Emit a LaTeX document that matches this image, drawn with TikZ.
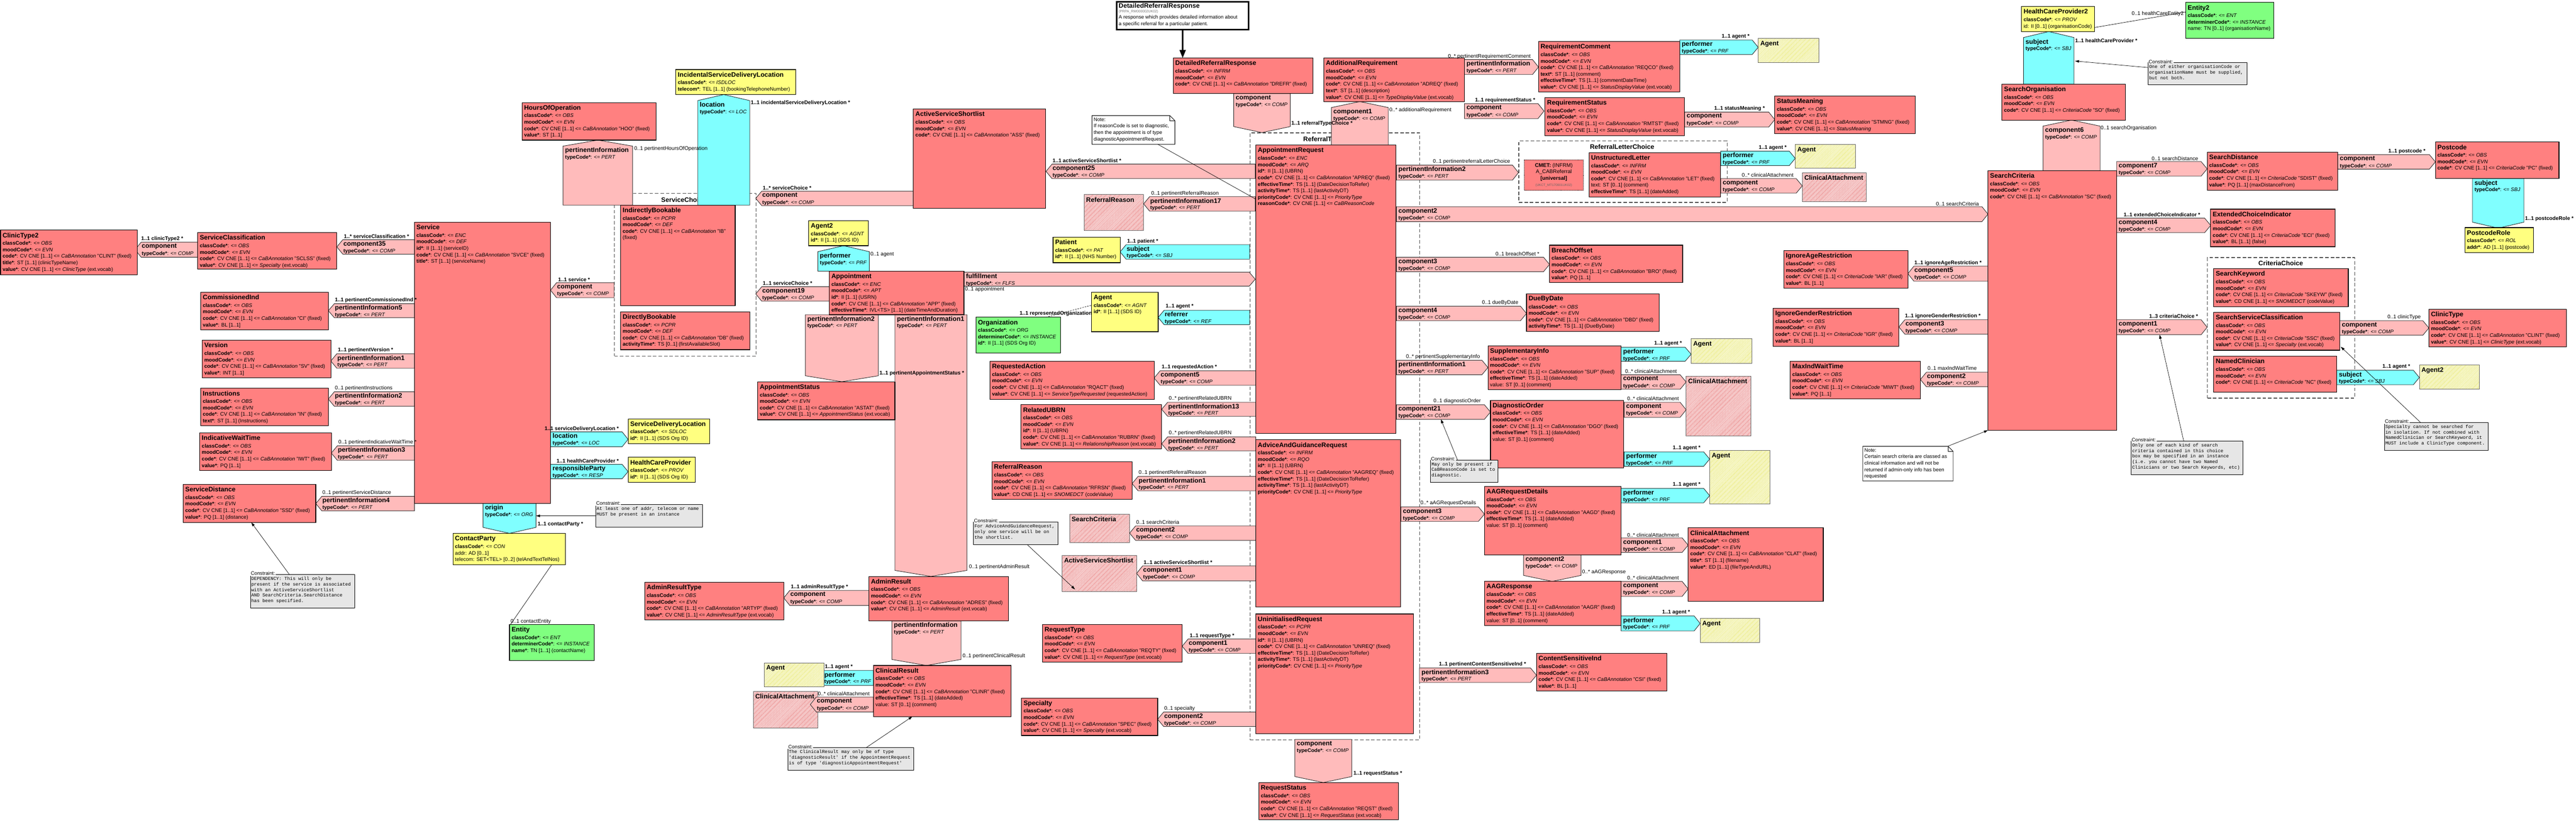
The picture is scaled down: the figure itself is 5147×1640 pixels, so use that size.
\documentclass[tikz,border=0pt]{standalone}
\usepackage{fontspec}
\setmainfont{Liberation Sans}
\setmonofont{Liberation Mono}
\usetikzlibrary{arrows.meta,patterns}

\definecolor{actred}{RGB}{255,128,128}
\definecolor{relpink}{RGB}{255,187,187}
\definecolor{partcyan}{RGB}{128,255,255}
\definecolor{roleyel}{RGB}{255,255,128}
\definecolor{entgrn}{RGB}{128,255,128}
\definecolor{cnstgray}{RGB}{230,230,230}
\definecolor{hatchred}{RGB}{215,25,25}
\definecolor{hatchyel}{RGB}{215,215,0}

\tikzset{%
  % Specifications for style of class boxes:
  actcls/.style = {rectangle, draw=black, line width=1.2pt, fill=actred, anchor=north west, inner sep=0pt, outer sep=0pt},
  rolecls/.style = {actcls, fill=roleyel},
  entcls/.style = {actcls, fill=entgrn},
  phred/.style = {rectangle, draw=black!60, line width=1pt, anchor=north west, inner sep=0pt, outer sep=0pt, preaction={fill=white}, pattern=north east lines, pattern color=hatchred},
  phyel/.style = {phred, pattern color=hatchyel},
  clsttl/.style = {anchor=north west, inner sep=0pt, font=\fontsize{13}{14}\selectfont\bfseries},
  clsattr/.style = {anchor=north west, inner sep=0pt, align=left, font=\fontsize{10.3}{13}\selectfont},
  hdrbox/.style = {rectangle, draw=black, line width=3pt, fill=white, anchor=north west, inner sep=0pt},
  cmetbox/.style = {rectangle, draw=black, densely dotted, line width=1pt, fill=actred, anchor=north west, inner sep=0pt},
  % Specifications for style of associations:
  rel/.style = {draw=black!85, line width=0.9pt, fill=relpink},
  part/.style = {rel, fill=partcyan},
  relttl/.style = {anchor=north west, inner sep=0pt, font=\fontsize{13}{14}\selectfont\bfseries},
  reltc/.style = {anchor=north west, inner sep=0pt, font=\fontsize{10.3}{12}\selectfont},
  rlabel/.style = {anchor=west, inner sep=0pt, font=\fontsize{10.5}{12}\selectfont},
  rlabelb/.style = {rlabel, font=\fontsize{10.5}{12}\selectfont\bfseries},
  % Specifications for choice boxes, notes and constraints:
  choicebox/.style = {rectangle, draw=black!70, dash pattern=on 7pt off 4pt, line width=1.3pt, anchor=north west, inner sep=0pt},
  choicettl/.style = {inner sep=0pt, font=\fontsize{13}{14}\selectfont\bfseries},
  cnstbox/.style = {rectangle, draw=black, line width=1pt, fill=cnstgray, anchor=north west, inner sep=0pt},
  cnstlbl/.style = {anchor=south west, inner sep=1pt, fill=white, font=\fontsize{10}{11}\selectfont},
  cnsttxt/.style = {anchor=north west, inner sep=0pt, align=left, font=\fontsize{9.2}{11}\selectfont\ttfamily},
  notearea/.style = {rectangle, anchor=north west, inner sep=0pt},
  notefold/.style = {draw=black, line width=1pt, fill=white},
  notetxt/.style = {anchor=north west, inner sep=0pt, align=left, font=\fontsize{10}{13}\selectfont},
  cnlink/.style = {line width=0.7pt, -{Triangle[length=8pt,width=5pt]}},
  plainlink/.style = {line width=0.7pt},
  bigarrow/.style = {line width=3pt, -{Triangle[length=16pt,width=12pt]}},
}

% class box: style, name, x1, y1, x2, y2, title, attributes
\newcommand{\rimcls}[8]{%
  \node[#1, minimum width={(#5-#3)*1pt}, minimum height={(#6-#4)*1pt}] (#2) at (#3,#4) {};
  \node[clsttl] (#2-t) at ([xshift=4pt,yshift=-5pt]#2.north west) {#7};
  \node[clsattr] (#2-a) at ([xshift=4pt,yshift=-22pt]#2.north west) {#8};
}
% placeholder box: style, name, x1, y1, x2, y2, title
\newcommand{\rimph}[7]{%
  \node[#1, minimum width={(#5-#3)*1pt}, minimum height={(#6-#4)*1pt}] (#2) at (#3,#4) {};
  \node[clsttl] (#2-t) at ([xshift=4pt,yshift=-5pt]#2.north west) {#7};
}
% associations: style, name, x1, y1, x2, y2, title, typeCode
\newcommand{\relW}[8]{%
  \path[#1] (#3,{(#4+#6)/2}) -- ({#3+12},#4) -- (#5,#4) -- (#5,#6) -- ({#3+12},#6) -- cycle;
  \node[relttl] (#2) at ({#3+13},{#4+3}) {#7};
  \node[reltc] (#2-tc) at ({#3+13},{#4+18}) {\textbf{typeCode*}: <= \textit{#8}};
}
\newcommand{\relE}[8]{%
  \path[#1] (#3,#4) -- ({#5-12},#4) -- (#5,{(#4+#6)/2}) -- ({#5-12},#6) -- (#3,#6) -- cycle;
  \node[relttl] (#2) at ({#3+4},{#4+3}) {#7};
  \node[reltc] (#2-tc) at ({#3+4},{#4+18}) {\textbf{typeCode*}: <= \textit{#8}};
}
\newcommand{\relN}[8]{%
  \path[#1] ({(#3+#5)/2},#4) -- (#5,{#4+12}) -- (#5,#6) -- (#3,#6) -- (#3,{#4+12}) -- cycle;
  \node[relttl] (#2) at ({#3+4},{#4+15}) {#7};
  \node[reltc] (#2-tc) at ({#3+4},{#4+30}) {\textbf{typeCode*}: <= \textit{#8}};
}
\newcommand{\relS}[8]{%
  \path[#1] (#3,#4) -- (#5,#4) -- (#5,{#6-12}) -- ({(#3+#5)/2},#6) -- (#3,{#6-12}) -- cycle;
  \node[relttl] (#2) at ({#3+4},{#4+3}) {#7};
  \node[reltc] (#2-tc) at ({#3+4},{#4+18}) {\textbf{typeCode*}: <= \textit{#8}};
}
\newcommand{\rlab}[4]{\node[rlabel] (#1) at (#2,#3) {#4};}
\newcommand{\rlabb}[4]{\node[rlabelb] (#1) at (#2,#3) {#4};}
% constraint: name, x1, y1, x2, y2, text
\newcommand{\rimcnst}[6]{%
  \node[cnstbox, minimum width={(#4-#2)*1pt}, minimum height={(#5-#3)*1pt}] (#1) at (#2,#3) {};
  \node[cnstlbl] (#1-l) at ([yshift=-3pt]#1.north west) {Constraint:};
  \node[cnsttxt] (#1-t) at ([xshift=2pt,yshift=-5pt]#1.north west) {#6};
}
% note: name, x1, y1, x2, y2, text
\newcommand{\rimnote}[6]{%
  \node[notearea, minimum width={(#4-#2)*1pt}, minimum height={(#5-#3)*1pt}] (#1) at (#2,#3) {};
  \draw[notefold] (#1.north west) -- ([xshift=-10pt]#1.north east) -- ([yshift=-10pt]#1.north east) -- (#1.south east) -- (#1.south west) -- cycle;
  \draw[notefold, fill=none] ([xshift=-10pt]#1.north east) -- ([xshift=-10pt,yshift=-10pt]#1.north east) -- ([yshift=-10pt]#1.north east);
  \node[notetxt] (#1-t) at ([xshift=3pt,yshift=-4pt]#1.north west) {#6};
}
% attribute helpers
\newcommand{\attcls}[1]{\textbf{classCode*}: <= \textit{#1}}
\newcommand{\attmood}[1]{\textbf{moodCode*}: <= \textit{#1}}
\newcommand{\attdet}[1]{\textbf{determinerCode*}: <= \textit{#1}}
\newcommand{\attcode}[2]{\textbf{code*}: CV CNE [1..1] <= \textit{#1} "#2" (fixed)}
\newcommand{\attid}[1]{\textbf{id*}: II [1..1] (#1)}
\newcommand{\attvoc}[1]{\textbf{value*}: CV CNE [1..1] <= \textit{#1} (ext.vocab)}
\newcommand{\attadded}{\textbf{effectiveTime*}: TS [1..1] (dateAdded)\\value: ST [0..1] (comment)}
\newcommand{\attreq}{\textbf{effectiveTime*}: TS [1..1] (DateDecisionToRefer)\\\textbf{activityTime*}: TS [1..1] (lastActivityDT)\\\textbf{priorityCode*}: CV CNE [1..1] <= \textit{PriorityType}}

\begin{document}
\begin{tikzpicture}[x=1pt, y=-1pt]
    \useasboundingbox (0,0) rectangle (5147,1640);
    \fill[white] (0,0) rectangle (5147,1640);

    % Draw choice boxes
    \node[choicebox, minimum width=283pt, minimum height=325pt] (svcchoice) at (1227,386) {};
    \node[choicettl] (svcchoice-t) at (1366,399) {ServiceChoice};
    \node[choicebox, minimum width=339pt, minimum height=1213pt] (rtchoice) at (2497,265) {};
    \node[choicettl] (rtchoice-t) at (2665,279) {ReferralTypeChoice};
    \node[choicebox, minimum width=416pt, minimum height=123pt] (rlchoice) at (3034,281) {};
    \node[choicettl] (rlchoice-t) at (3241,293) {ReferralLetterChoice};
    \node[choicebox, minimum width=294pt, minimum height=281pt] (critchoice) at (4410,514) {};
    \node[choicettl] (critchoice-t) at (4557,526) {CriteriaChoice};

    % Draw placeholders
    \rimph{phred}{phrr}{2166}{389}{2285}{461}{ReferralReason}
    \rimph{phred}{phsc}{2137}{1028}{2257}{1084}{SearchCriteria}
    \rimph{phred}{phass}{2122}{1110}{2271}{1182}{ActiveServiceShortlist}
    \rimph{phred}{phca1}{1505}{1382}{1634}{1455}{ClinicalAttachment}
    \rimph{phred}{phca2}{3601}{345}{3729}{403}{ClinicalAttachment}
    \rimph{phred}{phca3}{3369}{752}{3498}{871}{ClinicalAttachment}
    \rimph{phyel}{phag2}{3513}{77}{3634}{125}{Agent}
    \rimph{phyel}{phag3}{3587}{289}{3707}{336}{Agent}
    \rimph{phyel}{phag4}{3379}{677}{3500}{726}{Agent}
    \rimph{phyel}{phag5}{3416}{900}{3536}{1007}{Agent}
    \rimph{phyel}{phag6}{3397}{1236}{3516}{1284}{Agent}
    \rimph{phyel}{phagt2}{4834}{729}{4954}{778}{Agent2}

    % Draw associations
    \relW{rel}{ct2comp}{270}{484}{395}{514}{component}{COMP}
    \relW{rel}{comp35}{673}{479}{828}{508}{component35}{COMP}
    \relW{rel}{pi5}{656}{607}{828}{635}{pertinentInformation5}{PERT}
    \relW{rel}{pi1v}{661}{707}{828}{736}{pertinentInformation1}{PERT}
    \relW{rel}{pi2i}{656}{783}{828}{812}{pertinentInformation2}{PERT}
    \relW{rel}{pi3}{662}{891}{828}{920}{pertinentInformation3}{PERT}
    \relW{rel}{pi4}{631}{992}{828}{1021}{pertinentInformation4}{PERT}
    \relW{rel}{svccomp}{1100}{565}{1227}{595}{component}{COMP}
    \relW{rel}{schcomp}{1510}{382}{1825}{411}{component}{COMP}
    \relW{rel}{comp19}{1510}{573}{1657}{602}{component19}{COMP}
    \relW{rel}{comp25}{2090}{328}{2508}{357}{component25}{COMP}
    \relW{rel}{pi17}{2285}{393}{2508}{422}{pertinentInformation17}{PERT}
    \relW{part}{patsubj}{2238}{489}{2497}{518}{subject}{SBJ}
    \relW{part}{referrer}{2314}{620}{2497}{649}{referrer}{REF}
    \relW{rel}{comp5}{2306}{741}{2509}{770}{component5}{COMP}
    \relW{rel}{pi13}{2321}{804}{2509}{832}{pertinentInformation13}{PERT}
    \relW{rel}{pi2u}{2321}{873}{2509}{901}{pertinentInformation2}{PERT}
    \relW{rel}{pi1r}{2262}{952}{2509}{981}{pertinentInformation1}{PERT}
    \relW{rel}{comp2sc}{2257}{1051}{2509}{1080}{component2}{COMP}
    \relW{rel}{comp1as}{2271}{1131}{2509}{1161}{component1}{COMP}
    \relW{rel}{artcomp}{1566}{1180}{1736}{1210}{component}{COMP}
    \relW{part}{crperf}{1634}{1340}{1745}{1370}{performer}{PRF}
    \relW{rel}{crcomp}{1619}{1393}{1745}{1423}{component}{COMP}
    \relW{rel}{comp1rt}{2362}{1277}{2509}{1306}{component1}{COMP}
    \relW{rel}{comp2sp}{2313}{1423}{2509}{1452}{component2}{COMP}
    \relW{rel}{comp5ia}{3812}{532}{3972}{562}{component5}{COMP}
    \relW{rel}{comp3ig}{3794}{639}{3972}{668}{component3}{COMP}
    \relW{rel}{comp2mw}{3837}{744}{3972}{773}{component2}{COMP}

    \relE{part}{sdlloc}{1100}{863}{1255}{893}{location}{LOC}
    \relE{part}{resp}{1100}{928}{1255}{957}{responsibleParty}{RESP}
    \relE{rel}{fulfil}{1926}{544}{2508}{572}{fulfillment}{FLFS}
    \relE{rel}{pirc}{2926}{119}{3074}{149}{pertinentInformation}{PERT}
    \relE{rel}{rscomp}{2926}{207}{3085}{237}{component}{COMP}
    \relE{rel}{smcomp}{3366}{224}{3546}{254}{component}{COMP}
    \relE{part}{rcperf}{3356}{80}{3513}{109}{performer}{PRF}
    \relE{rel}{pi2l}{2790}{330}{3034}{360}{pertinentInformation2}{PERT}
    \relE{part}{ulperf}{3438}{302}{3587}{331}{performer}{PRF}
    \relE{rel}{ulcomp}{3438}{357}{3601}{386}{component}{COMP}
    \relE{rel}{comp2cr}{2790}{413}{3972}{443}{component2}{COMP}
    \relE{rel}{comp3bo}{2790}{514}{3096}{543}{component3}{COMP}
    \relE{rel}{comp4dd}{2790}{612}{3050}{641}{component4}{COMP}
    \relE{rel}{pi1s}{2790}{720}{2973}{749}{pertinentInformation1}{PERT}
    \relE{part}{siperf}{3239}{694}{3379}{722}{performer}{PRF}
    \relE{rel}{sicomp}{3239}{749}{3369}{778}{component}{COMP}
    \relE{rel}{comp21}{2790}{809}{2978}{838}{component21}{COMP}
    \relE{rel}{docomp}{3245}{804}{3369}{834}{component}{COMP}
    \relE{part}{doperf}{3245}{903}{3416}{932}{performer}{PRF}
    \relE{part}{adperf}{3239}{976}{3416}{1005}{performer}{PRF}
    \relE{rel}{comp3ad}{2799}{1013}{2966}{1042}{component3}{COMP}
    \relE{rel}{adcomp}{3239}{1075}{3373}{1104}{component1}{COMP}
    \relE{rel}{arcomp}{3239}{1162}{3373}{1192}{component}{COMP}
    \relE{part}{arperf}{3239}{1231}{3397}{1261}{performer}{PRF}
    \relE{rel}{pi3cs}{2836}{1335}{3070}{1364}{pertinentInformation3}{PERT}
    \relE{rel}{comp7}{4229}{323}{4410}{352}{component7}{COMP}
    \relE{rel}{pccomp}{4671}{309}{4866}{338}{component}{COMP}
    \relE{rel}{comp4ec}{4229}{436}{4417}{465}{component4}{COMP}
    \relE{rel}{comp1cc}{4229}{639}{4410}{669}{component1}{COMP}
    \relE{rel}{ctcomp}{4675}{641}{4853}{670}{component}{COMP}
    \relE{part}{ncsubj}{4669}{740}{4834}{769}{subject}{SBJ}

    \relN{rel}{pihoo}{1125}{280}{1264}{410}{pertinentInformation}{PERT}
    \relN{part}{isdlloc}{1394}{189}{1498}{410}{location}{LOC}
    \relN{part}{ag2perf}{1634}{491}{1737}{542}{performer}{PRF}
    \relN{rel}{comp1ar}{2660}{203}{2774}{290}{component1}{COMP}
    \relN{part}{hcpsubj}{4043}{63}{4144}{168}{subject}{SBJ}
    \relN{rel}{comp6}{4082}{240}{4196}{341}{component6}{COMP}

    \relS{part}{origin}{965}{1006}{1071}{1066}{origin}{ORG}
    \relS{rel}{drrcomp}{2465}{187}{2578}{265}{component}{COMP}
    \relS{rel}{pi2as}{1609}{629}{1755}{763}{pertinentInformation2}{PERT}
    \relS{rel}{pi1ad}{1788}{629}{1932}{1152}{pertinentInformation1}{PERT}
    \relS{rel}{picr}{1782}{1241}{1920}{1330}{pertinentInformation}{PERT}
    \relS{rel}{comp2ar}{3044}{1109}{3159}{1162}{component2}{COMP}
    \relS{rel}{rqcomp}{2587}{1478}{2701}{1564}{component}{COMP}
    \relS{part}{pcsubj}{4940}{357}{5043}{456}{subject}{SBJ}

    \rimph{phyel}{phag1}{1527}{1325}{1646}{1373}{Agent}

    % Draw classes
    \rimcls{actcls}{ct2}{1}{460}{274}{549}{ClinicType2}{\attcls{OBS}\\\attmood{EVN}\\\attcode{CaBAnnotation}{CLINT}\\\textbf{title*}: ST [1..1] (clinicTypeName)\\\attvoc{ClinicType}}
    \rimcls{actcls}{svccls}{395}{465}{673}{538}{ServiceClassification}{\attcls{OBS}\\\attmood{EVN}\\\attcode{CaBAnnotation}{SCLSS}\\\attvoc{Specialty}}
    \rimcls{actcls}{service}{828}{444}{1100}{1006}{Service}{\attcls{ENC}\\\attmood{DEF}\\\attid{serviceID}\\\attcode{CaBAnnotation}{SVCE}\\\textbf{title*}: ST [1..1] (serviceName)}
    \rimcls{actcls}{hoo}{1043}{205}{1311}{280}{HoursOfOperation}{\attcls{OBS}\\\attmood{EVN}\\\attcode{CaBAnnotation}{HOO}\\\textbf{value*}: ST [1..1]}
    \rimcls{actcls}{comind}{401}{584}{656}{659}{CommissionedInd}{\attcls{OBS}\\\attmood{EVN}\\\attcode{CaBAnnotation}{CI}\\\textbf{value*}: BL [1..1]}
    \rimcls{actcls}{version}{404}{680}{661}{755}{Version}{\attcls{OBS}\\\attmood{EVN}\\\attcode{CaBAnnotation}{SV}\\\textbf{value*}: INT [1..1]}
    \rimcls{actcls}{instr}{401}{776}{656}{851}{Instructions}{\attcls{OBS}\\\attmood{EVN}\\\attcode{CaBAnnotation}{IN}\\\textbf{text*}: ST [1..1] (Instructions)}
    \rimcls{actcls}{iwt}{399}{865}{662}{940}{IndicativeWaitTime}{\attcls{OBS}\\\attmood{EVN}\\\attcode{CaBAnnotation}{IWT}\\\textbf{value*}: PQ [1..1]}
    \rimcls{actcls}{sdist}{366}{968}{631}{1044}{ServiceDistance}{\attcls{OBS}\\\attmood{EVN}\\\attcode{CaBAnnotation}{SSD}\\\textbf{value*}: PQ [1..1] (distance)}
    \rimcls{actcls}{indbook}{1240}{410}{1469}{611}{IndirectlyBookable}{\attcls{PCPR}\\\attmood{DEF}\\\textbf{code*}: CV CNE [1..1] <= \textit{CaBAnnotation} "IB"\\(fixed)}
    \rimcls{actcls}{dirbook}{1240}{623}{1498}{699}{DirectlyBookable}{\attcls{PCPR}\\\attmood{DEF}\\\attcode{CaBAnnotation}{DB}\\\textbf{activityTime*}: TS [0..1] (firstAvailableSlot)}
    \rimcls{actcls}{ass}{1825}{218}{2089}{416}{ActiveServiceShortlist}{\attcls{OBS}\\\attmood{EVN}\\\attcode{CaBAnnotation}{ASS}}
    \rimcls{actcls}{appt}{1657}{542}{1926}{629}{Appointment}{\attcls{ENC}\\\attmood{APT}\\\attid{USRN}\\\attcode{CaBAnnotation}{APP}\\\textbf{effectiveTime*}: IVL<TS> [1..1] (dateTimeAndDuration)}
    \rimcls{actcls}{apptst}{1514}{763}{1788}{839}{AppointmentStatus}{\attcls{OBS}\\\attmood{EVN}\\\attcode{CaBAnnotation}{ASTAT}\\\attvoc{AppointmentStatus}}
    \rimcls{actcls}{rqact}{1978}{722}{2306}{798}{RequestedAction}{\attcls{OBS}\\\attmood{EVN}\\\attcode{CaBAnnotation}{RQACT}\\\textbf{value*}: CV CNE [1..1] <= \textit{ServiceTypeRequested} (requestedAction)}
    \rimcls{actcls}{rubrn}{2040}{809}{2321}{897}{RelatedUBRN}{\attcls{OBS}\\\attmood{EVN}\\\attid{UBRN}\\\attcode{CaBAnnotation}{RUBRN}\\\attvoc{RelationshipReason}}
    \rimcls{actcls}{refrsn}{1982}{923}{2262}{998}{ReferralReason}{\attcls{OBS}\\\attmood{EVN}\\\attcode{CaBAnnotation}{RFRSN}\\\textbf{value*}: CD CNE [1..1] <= \textit{SNOMEDCT} (codeValue)}
    \rimcls{actcls}{admres}{1736}{1152}{2015}{1241}{AdminResult}{\attcls{OBS}\\\attmood{EVN}\\\attcode{CaBAnnotation}{ADRES}\\\attvoc{AdminResult}}
    \rimcls{actcls}{admrt}{1288}{1164}{1566}{1239}{AdminResultType}{\attcls{OBS}\\\attmood{EVN}\\\attcode{CaBAnnotation}{ARTYP}\\\attvoc{AdminResultType}}
    \rimcls{actcls}{clinres}{1745}{1330}{2020}{1432}{ClinicalResult}{\attcls{OBS}\\\attmood{EVN}\\\attcode{CaBAnnotation}{CLINR}\\\attadded}
    \rimcls{actcls}{rqtype}{2083}{1248}{2362}{1323}{RequestType}{\attcls{OBS}\\\attmood{EVN}\\\attcode{CaBAnnotation}{REQTY}\\\attvoc{RequestType}}
    \rimcls{actcls}{spec}{2041}{1395}{2313}{1470}{Specialty}{\attcls{OBS}\\\attmood{EVN}\\\attcode{CaBAnnotation}{SPEC}\\\attvoc{Specialty}}
    \rimcls{actcls}{drr}{2344}{116}{2623}{187}{DetailedReferralResponse}{\attcls{INFRM}\\\attmood{EVN}\\\attcode{CaBAnnotation}{DREFR}}
    \rimcls{actcls}{aptreq}{2509}{290}{2789}{866}{AppointmentRequest}{\attcls{ENC}\\\attmood{ARQ}\\\attid{UBRN}\\\attcode{CaBAnnotation}{APREQ}\\\attreq\\\textbf{reasonCode*}: CV CNE [1..1] <= \textit{CaBReasonCode}}
    \rimcls{actcls}{aagreq}{2509}{879}{2798}{1213}{AdviceAndGuidanceRequest}{\attcls{INFRM}\\\attmood{RQO}\\\attid{UBRN}\\\attcode{CaBAnnotation}{AAGREQ}\\\attreq}
    \rimcls{actcls}{unreq}{2509}{1227}{2824}{1466}{UninitialisedRequest}{\attcls{PCPR}\\\attmood{EVN}\\\attid{UBRN}\\\attcode{CaBAnnotation}{UNREQ}\\\attreq}
    \rimcls{actcls}{rqst}{2515}{1564}{2794}{1638}{RequestStatus}{\attcls{OBS}\\\attmood{EVN}\\\attcode{CaBAnnotation}{REQST}\\\attvoc{RequestStatus}}
    \rimcls{actcls}{addreq}{2645}{116}{2926}{203}{AdditionalRequirement}{\attcls{OBS}\\\attmood{EVN}\\\attcode{CaBAnnotation}{ADREQ}\\\textbf{text*}: ST [1..1] (description)\\\attvoc{TypeDisplayValue}}
    \rimcls{actcls}{rqcom}{3074}{83}{3356}{184}{RequirementComment}{\attcls{OBS}\\\attmood{EVN}\\\attcode{CaBAnnotation}{REQCO}\\\textbf{text*}: ST [1..1] (comment)\\\textbf{effectiveTime*}: TS [1..1] (commentDateTime)\\\attvoc{StatusDisplayValue}}
    \rimcls{actcls}{rqstat}{3087}{195}{3366}{271}{RequirementStatus}{\attcls{OBS}\\\attmood{EVN}\\\attcode{CaBAnnotation}{RMTST}\\\attvoc{StatusDisplayValue}}
    \rimcls{actcls}{stmng}{3546}{192}{3827}{267}{StatusMeaning}{\attcls{OBS}\\\attmood{EVN}\\\attcode{CaBAnnotation}{STMNG}\\\textbf{value*}: CV CNE [1..1] <= \textit{StatusMeaning}}
    \rimcls{actcls}{unletter}{3175}{305}{3438}{394}{UnstructuredLetter}{\attcls{INFRM}\\\attmood{EVN}\\\attcode{CaBAnnotation}{LET}\\text: ST [0..1] (comment)\\\textbf{effectiveTime*}: TS [1..1] (dateAdded)}
    \rimcls{actcls}{breach}{3096}{490}{3362}{565}{BreachOffset}{\attcls{OBS}\\\attmood{EVN}\\\attcode{CaBAnnotation}{BRO}\\\textbf{value*}: PQ [1..1]}
    \rimcls{actcls}{duedate}{3050}{587}{3315}{662}{DueByDate}{\attcls{OBS}\\\attmood{EVN}\\\attcode{CaBAnnotation}{DBD}\\\textbf{activityTime*}: TS [1..1] (DueByDate)}
    \rimcls{actcls}{suppinfo}{2973}{691}{3239}{779}{SupplementaryInfo}{\attcls{OBS}\\\attmood{EVN}\\\attcode{CaBAnnotation}{SUP}\\\attadded}
    \rimcls{actcls}{diagord}{2978}{800}{3244}{935}{DiagnosticOrder}{\attcls{OBS}\\\attmood{EVN}\\\attcode{CaBAnnotation}{DGO}\\\attadded}
    \rimcls{actcls}{aagdet}{2966}{972}{3239}{1109}{AAGRequestDetails}{\attcls{OBS}\\\attmood{EVN}\\\attcode{CaBAnnotation}{AAGD}\\\attadded}
    \rimcls{actcls}{aagresp}{2966}{1162}{3239}{1250}{AAGResponse}{\attcls{OBS}\\\attmood{EVN}\\\attcode{CaBAnnotation}{AAGR}\\\attadded}
    \rimcls{actcls}{clinatt}{3373}{1055}{3643}{1202}{ClinicalAttachment}{\attcls{OBS}\\\attmood{EVN}\\\attcode{CaBAnnotation}{CLAT}\\\textbf{title*}: ST [1..1] (filename)\\\textbf{value*}: ED [1..1] (fileTypeAndURL)}
    \rimcls{actcls}{csind}{3070}{1306}{3331}{1381}{ContentSensitiveInd}{\attcls{OBS}\\\attmood{EVN}\\\attcode{CaBAnnotation}{CSI}\\\textbf{value*}: BL [1..1]}
    \rimcls{actcls}{ignage}{3564}{501}{3812}{576}{IgnoreAgeRestriction}{\attcls{OBS}\\\attmood{EVN}\\\attcode{CriteriaCode}{IAR}\\\textbf{value*}: BL [1..1]}
    \rimcls{actcls}{igngen}{3543}{616}{3794}{692}{IgnoreGenderRestriction}{\attcls{OBS}\\\attmood{EVN}\\\attcode{CriteriaCode}{IGR}\\\textbf{value*}: BL [1..1]}
    \rimcls{actcls}{maxwait}{3577}{722}{3837}{797}{MaxIndWaitTime}{\attcls{OBS}\\\attmood{EVN}\\\attcode{CriteriaCode}{MIWT}\\\textbf{value*}: PQ [1..1]}
    \rimcls{actcls}{scrit}{3972}{341}{4229}{860}{SearchCriteria}{\attcls{OBS}\\\attmood{EVN}\\\attcode{CaBAnnotation}{SC}}
    \rimcls{actcls}{sorg}{4000}{168}{4247}{240}{SearchOrganisation}{\attcls{OBS}\\\attmood{EVN}\\\attcode{CriteriaCode}{SO}}
    \rimcls{actcls}{sdistc}{4410}{304}{4671}{380}{SearchDistance}{\attcls{OBS}\\\attmood{EVN}\\\attcode{CriteriaCode}{SDIST}\\\textbf{value*}: PQ [1..1] (maxDistanceFrom)}
    \rimcls{actcls}{postcode}{4866}{284}{5113}{357}{Postcode}{\attcls{OBS}\\\attmood{EVN}\\\attcode{CriteriaCode}{PC}}
    \rimcls{actcls}{extci}{4417}{418}{4666}{493}{ExtendedChoiceIndicator}{\attcls{OBS}\\\attmood{EVN}\\\attcode{CriteriaCode}{ECI}\\\textbf{value*}: BL [1..1] (false)}
    \rimcls{actcls}{skey}{4423}{537}{4692}{613}{SearchKeyword}{\attcls{OBS}\\\attmood{EVN}\\\attcode{CriteriaCode}{SKEYW}\\\textbf{value*}: CD CNE [1..1] <= \textit{SNOMEDCT} (codeValue)}
    \rimcls{actcls}{ssc}{4423}{624}{4675}{700}{SearchServiceClassification}{\attcls{OBS}\\\attmood{EVN}\\\attcode{CriteriaCode}{SSC}\\\attvoc{Specialty}}
    \rimcls{actcls}{namedcl}{4423}{712}{4669}{784}{NamedClinician}{\attcls{OBS}\\\attmood{EVN}\\\attcode{CriteriaCode}{NC}}
    \rimcls{actcls}{clintype}{4853}{618}{5128}{693}{ClinicType}{\attcls{OBS}\\\attmood{EVN}\\\attcode{CaBAnnotation}{CLINT}\\\attvoc{ClinicType}}

    % Draw roles and entities
    \rimcls{rolecls}{sdloc}{1255}{837}{1418}{887}{ServiceDeliveryLocation}{\attcls{SDLOC}\\\attid{SDS Org ID}}
    \rimcls{rolecls}{hcp}{1255}{914}{1389}{964}{HealthCareProvider}{\attcls{PROV}\\\attid{SDS Org ID}}
    \rimcls{rolecls}{cparty}{905}{1066}{1130}{1129}{ContactParty}{\attcls{CON}\\addr: AD [0..1]\\telecom: SET<TEL> [0..2] (telAndTextTelNos)}
    \rimcls{rolecls}{isdl}{1350}{139}{1590}{189}{IncidentalServiceDeliveryLocation}{\attcls{ISDLOC}\\\textbf{telecom*}: TEL [1..1] (bookingTelephoneNumber)}
    \rimcls{rolecls}{agent2}{1616}{441}{1735}{491}{Agent2}{\attcls{AGNT}\\\attid{SDS ID}}
    \rimcls{rolecls}{patient}{2104}{474}{2238}{525}{Patient}{\attcls{PAT}\\\attid{NHS Number}}
    \rimcls{rolecls}{agent}{2181}{584}{2314}{663}{Agent}{\attcls{AGNT}\\\attid{SDS ID}}
    \rimcls{rolecls}{hcp2}{4039}{13}{4185}{63}{HealthCareProvider2}{\attcls{PROV}\\id: II [0..1] (organisationCode)}
    \rimcls{rolecls}{pcrole}{4925}{455}{5062}{505}{PostcodeRole}{\attcls{ROL}\\\textbf{addr*}: AD [1..1] (postcode)}
    \rimcls{entcls}{entity}{1018}{1248}{1187}{1320}{Entity}{\attcls{ENT}\\\attdet{INSTANCE}\\\textbf{name*}: TN [1..1] (contactName)}
    \rimcls{entcls}{org}{1950}{634}{2119}{706}{Organization}{\attcls{ORG}\\\attdet{INSTANCE}\\\attid{SDS Org ID}}
    \rimcls{entcls}{entity2}{4367}{5}{4543}{77}{Entity2}{\attcls{ENT}\\\attdet{INSTANCE}\\name: TN [0..1] (organisationName)}

    % CMET and header
    \node[cmetbox, minimum width=118pt, minimum height=61pt] (cmet) at (3045,319) {};
    \node[align=center, inner sep=0pt, font=\fontsize{10.5}{13}\selectfont] (cmet-t) at (cmet.center) {\textbf{CMET:} (INFRM)\\A\_CABReferral\\\textbf{[universal]}\\{\fontsize{6.5}{8}\selectfont\color{black!60}(UKCT\_MT170001UK02)}};
    \node[hdrbox, minimum width=263pt, minimum height=56pt] (hdr) at (2230,2) {};
    \node[clsttl] (hdr-t) at ([xshift=5pt,yshift=-4pt]hdr.north west) {DetailedReferralResponse};
    \node[anchor=north west, inner sep=0pt, font=\fontsize{7}{8}\selectfont, text=black!55] (hdr-s) at ([xshift=5pt,yshift=-18pt]hdr.north west) {(PRPA\_RM000002UK02)};
    \node[notetxt] (hdr-d) at ([xshift=5pt,yshift=-28pt]hdr.north west) {A response which provides detailed information about\\a specific referral for a particular patient.};

    % Association labels
    \rlabb{l1}{282}{477}{1..1 clinicType2 *}
    \rlabb{l2}{687}{472}{1..* serviceClassification *}
    \rlabb{l3}{669}{600}{1..1 pertinentCommissionedInd *}
    \rlabb{l4}{675}{700}{1..1 pertinentVersion *}
    \rlab{l5}{669}{776}{0..1 pertinentInstructions}
    \rlab{l6}{676}{884}{0..1 pertinentIndicativeWaitTime *}
    \rlab{l7}{644}{985}{0..1 pertinentServiceDistance}
    \rlabb{l8}{1115}{559}{1..1 service *}
    \rlabb{l9}{1524}{376}{1..* serviceChoice *}
    \rlabb{l10}{1524}{566}{1..1 serviceChoice *}
    \rlabb{l11}{2103}{321}{1..1 activeServiceShortlist *}
    \rlab{l12}{2300}{387}{0..1 pertinentReferralReason}
    \rlabb{l13}{2252}{483}{1..1 patient *}
    \rlabb{l14}{2329}{613}{1..1 agent *}
    \rlabb{l15}{2321}{734}{1..1 requestedAction *}
    \rlab{l16}{2335}{797}{0..* pertinentRelatedUBRN}
    \rlab{l17}{2335}{866}{0..* pertinentRelatedUBRN}
    \rlab{l18}{2275}{945}{0..1 pertinentReferralReason}
    \rlab{l19}{2270}{1044}{0..1 searchCriteria}
    \rlabb{l20}{2285}{1124}{1..1 activeServiceShortlist *}
    \rlabb{l21}{1580}{1173}{1..1 adminResultType *}
    \rlabb{l22}{1648}{1333}{1..1 agent *}
    \rlab{l23}{1634}{1386}{0..* clinicalAttachment}
    \rlabb{l24}{2377}{1271}{1..1 requestType *}
    \rlab{l25}{2326}{1416}{0..1 specialty}
    \rlabb{l26}{3825}{526}{1..1 ignoreAgeRestriction *}
    \rlabb{l27}{3806}{632}{1..1 ignoreGenderRestriction *}
    \rlab{l28}{3851}{736}{0..1 maxIndWaitTime}
    \rlabb{l29}{1088}{857}{1..1 serviceDeliveryLocation *}
    \rlabb{l30}{1112}{921}{1..1 healthCareProvider *}
    \rlab{l31}{1928}{578}{0..1 appointment}
    \rlab{l32}{2893}{113}{0..* pertinentRequirementComment}
    \rlabb{l33}{2947}{201}{1..1 requirementStatus *}
    \rlabb{l34}{3425}{217}{1..1 statusMeaning *}
    \rlabb{l35}{3440}{73}{1..1 agent *}
    \rlab{l36}{2863}{323}{0..1 pertinentreferralLetterChoice}
    \rlabb{l37}{3514}{296}{1..1 agent *}
    \rlab{l38}{3480}{350}{0..* clinicalAttachment}
    \rlab{l39}{3868}{407}{0..1 searchCriteria}
    \rlab{l40}{2988}{507}{0..1 breachOffset *}
    \rlab{l41}{2961}{605}{0..1 dueByDate}
    \rlab{l42}{2809}{713}{0..* pertinentSupplementaryInfo}
    \rlabb{l43}{3305}{687}{1..1 agent *}
    \rlab{l44}{3247}{742}{0..* clinicalAttachment}
    \rlab{l45}{2864}{802}{0..1 diagnosticOrder}
    \rlab{l46}{3251}{797}{0..* clinicalAttachment}
    \rlabb{l47}{3342}{896}{1..1 agent *}
    \rlabb{l48}{3342}{969}{1..1 agent *}
    \rlab{l49}{2838}{1006}{0..* aAGRequestDetails}
    \rlab{l50}{3251}{1069}{0..* clinicalAttachment}
    \rlab{l51}{3251}{1155}{0..* clinicalAttachment}
    \rlabb{l52}{3321}{1224}{1..1 agent *}
    \rlabb{l53}{2875}{1328}{1..1 pertinentContentSensitiveInd *}
    \rlab{l54}{4299}{317}{0..1 searchDistance}
    \rlabb{l55}{4772}{302}{1..1 postcode *}
    \rlabb{l56}{4243}{429}{1..1 extendedChoiceIndicator *}
    \rlabb{l57}{4294}{632}{1..3 criteriaChoice *}
    \rlab{l58}{4770}{634}{0..1 clinicType}
    \rlabb{l59}{4760}{733}{1..1 agent *}
    \rlab{l60}{1267}{297}{0..1 pertinentHoursOfOperation}
    \rlabb{l61}{1500}{206}{1..1 incidentalServiceDeliveryLocation *}
    \rlab{l62}{1739}{509}{0..1 agent}
    \rlab{l63}{2776}{220}{0..* additionalRequirement}
    \rlabb{l64}{4146}{81}{1..1 healthCareProvider *}
    \rlab{l65}{4197}{256}{0..1 searchOrganisation}
    \rlabb{l66}{1074}{1048}{1..1 contactParty *}
    \rlabb{l67}{2580}{247}{1..1 referralTypeChoice *}
    \rlabb{l68}{1757}{746}{1..1 pertinentAppointmentStatus *}
    \rlab{l69}{1936}{1133}{0..1 pertinentAdminResult}
    \rlab{l70}{1923}{1311}{0..1 pertinentClinicalResult}
    \rlab{l71}{3161}{1144}{0..* aAGResponse}
    \rlabb{l72}{2704}{1546}{1..1 requestStatus *}
    \rlabb{l73}{5045}{437}{1..1 postcodeRole *}
    \rlab{l74}{1020}{1242}{0..1 contactEntity}
    \rlabb{l75}{2037}{627}{1..1 representedOrganization}
    \rlab{l76}{4259}{28}{0..1 healthCareEntity2}

    % Notes and constraints
    \rimnote{note1}{2182}{231}{2347}{288}{Note:\\If reasonCode is set to diagnostic,\\then the appointment is of type\\diagnosticAppointmentRequest.}
    \rimnote{note2}{3722}{892}{3902}{961}{Note:\\Certain search criteria are classed as\\clinical information and will not be\\returned if admin-only info has been\\requested}
    \rimcnst{cdep}{500}{1148}{708}{1215}{DEPENDENCY: This will only be\\present if the service is associated\\with an ActiveServiceShortlist\\AND SearchCriteria.SearchDistance\\has been specified.}
    \rimcnst{caddr}{1190}{1008}{1403}{1053}{At least one of addr, telecom or name\\MUST be present in an instance}
    \rimcnst{caag}{1945}{1043}{2113}{1088}{For AdviceAndGuidanceRequest,\\only one service will be on\\the shortlist.}
    \rimcnst{cclin}{1574}{1494}{1825}{1539}{The ClinicalResult may only be of type\\'diagnosticResult' if the AppointmentRequest\\is of type 'diagnosticAppointmentRequest'}
    \rimcnst{cdiag}{2858}{919}{2992}{964}{May only be present if\\CaBReasonCode is set to\\diagnostic.}
    \rimcnst{corg}{4292}{125}{4489}{169}{One of either organisationCode or\\organisationName must be supplied,\\but not both.}
    \rimcnst{conly}{4258}{881}{4481}{948}{Only one of each kind of search\\criteria contained in this choice\\box may be specified in an instance\\(i.e. you cannot have two Named\\Clinicians or two Search Keywords, etc)}
    \rimcnst{cspec}{4764}{844}{4971}{900}{Specialty cannot be searched for\\in isolation. If not combined with\\NamedClinician or SearchKeyword, it\\MUST include a ClinicType component.}

    % Draw arrows
    \coordinate (originR) at (1071,1031);
    \coordinate (c21foot) at (2879,838);
    \coordinate (hcpsubjR) at (4146,122);
    \coordinate (ccfoot) at (4315,669);
    \draw[bigarrow] (hdr.south) -- (hdr.south |- drr.north);
    \draw[cnlink] ([xshift=78pt]cdep.north west) -- ([xshift=136pt]sdist.south west);
    \draw[cnlink] (caddr.west) -- (originR);
    \draw[plainlink] ([xshift=-28pt]cparty.south east) -- ([xshift=2pt]entity.north west);
    \draw[plainlink] ([xshift=-34pt]note1.south east) -- ([yshift=-108pt]aptreq.north west);
    \draw[plainlink, densely dashed] ([xshift=-29pt]org.north east) -- ([yshift=-26pt]agent.north west);
    \draw[cnlink] ([xshift=108pt]caag.south west) -- ([xshift=26pt,yshift=4pt]phass.south west);
    \draw[cnlink] ([xshift=157pt]cclin.north west) -- ([xshift=78pt]clinres.south west);
    \draw[cnlink] ([xshift=54pt]cdiag.north west) -- (c21foot);
    \draw[cnlink] ([xshift=-11pt]note2.north east) -- (scrit.south west);
    \draw[plainlink] ([yshift=-17pt]hcp2.east) -- ([yshift=-19pt]entity2.north west);
    \draw[cnlink] ([yshift=-10pt]corg.north west) -- (hcpsubjR);
    \draw[cnlink] ([xshift=105pt]conly.north west) -- (ccfoot);
    \draw[cnlink] ([xshift=72pt]cspec.north west) -- ([xshift=2pt,yshift=7pt]ssc.south east);

\end{tikzpicture}
\end{document}
